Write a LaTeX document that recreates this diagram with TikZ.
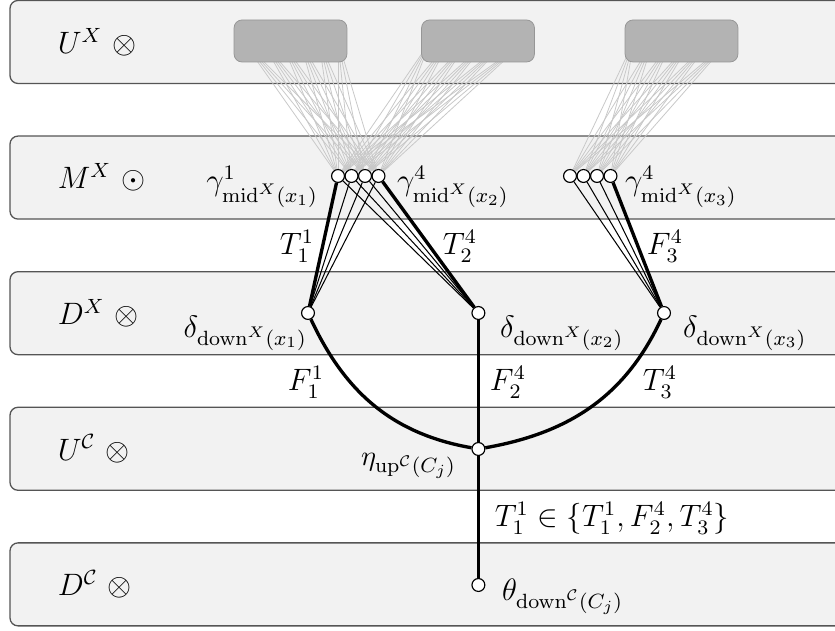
\documentclass[tikz,border=0pt,12pt]{standalone}
\usepackage{amsmath,amssymb}
\usetikzlibrary{calc,positioning}
\definecolor{layerfill}{RGB}{242,242,242}
\definecolor{layerline}{RGB}{85,85,85}
\definecolor{blockfill}{RGB}{179,179,179}
\definecolor{blockline}{RGB}{150,150,150}
\definecolor{wirecol}{RGB}{200,200,200}
\pgfdeclarelayer{back}
\pgfsetlayers{back,main}

\begin{document}
\begin{tikzpicture}[x=0.388pt,y=0.388pt,
  layer/.style={draw=layerline,fill=layerfill,line width=0.5pt,rounded corners=3.1pt},
  block/.style={draw=blockline,fill=blockfill,line width=0.3pt,rounded corners=3.1pt,
    minimum width=43.8pt,minimum height=16.3pt,inner sep=0pt},
  unit/.style={circle,draw,fill=white,line width=0.45pt,minimum size=5pt,inner sep=0pt},
  wire/.style={wirecol,line width=0.3pt},
  link/.style={line width=0.4pt},
  chosen/.style={line width=1.3pt},
  lab/.style={inner sep=1pt}]
  \useasboundingbox (0,0) rectangle (835,631);
  \clip (0,0) rectangle (835,631);

  \node[block] (bA) at (290.5,590) {};
  \node[block] (bB) at (478,590) {};
  \node[block] (bC) at (681.5,590) {};

  \foreach \k [count=\j] in {338,351.5,365,378.5} \node[unit] (g\j) at (\k,455) {};
  \foreach \k [count=\j] in {570,583.5,597,610.5} \node[unit] (h\j) at (\k,455) {};
  \node[unit] (d1) at (308,318) {};
  \node[unit] (d2) at (478.4,318) {};
  \node[unit] (d3) at (664,318) {};
  \node[unit] (up) at (478.4,182) {};
  \node[unit] (dn) at (478.4,46) {};

  \begin{pgfonlayer}{back}
    \fill[white] (0,0) rectangle (835,631);
    \foreach \i/\name/\op in {0/U^X/\otimes,1/M^X/\odot,2/D^X/\otimes,
        3/U^{\mathcal{C}}/\otimes,4/D^{\mathcal{C}}/\otimes} {
      \draw[layer] (10,{589-135.6*\i-41.5}) rectangle (870,{589-135.6*\i+41.5});
      \node[anchor=west] (t\i) at (47,{589-135.6*\i}) {$\name\ \op$};
    }
    \foreach \b in {bA,bB}
      \foreach \dx in {-47.5,-28.5,-9.5,9.5,28.5,47.5}
        \foreach \j in {1,...,4}
          \draw[wire] ($(\b)+(\dx,0)$) -- (g\j);
    \foreach \dx in {-47.5,-28.5,-9.5,9.5,28.5,47.5}
      \foreach \j in {1,...,4}
        \draw[wire] ($(bC)+(\dx,0)$) -- (h\j);
  \end{pgfonlayer}

  \foreach \j in {2,3,4} \draw[link] (g\j) -- (d1);
  \foreach \j in {1,2,3} \draw[link] (g\j) -- (d2);
  \foreach \j in {1,2,3} \draw[link] (h\j) -- (d3);
  \draw[chosen] (g1) -- (d1);
  \draw[chosen] (g4) -- (d2);
  \draw[chosen] (h4) -- (d3);
  \draw[chosen] (d1) to[out=-65,in=170] (up);
  \draw[chosen] (d3) to[out=-115,in=10] (up);
  \draw[chosen] (d2) -- (up);
  \draw[chosen] (up) -- (dn);

  \node[lab,anchor=east] (gl1) at (321,444) {$\gamma^1_{\mathrm{mid}^X(x_1)}$};
  \node[lab,anchor=west] (gl2) at (394,444) {$\gamma^4_{\mathrm{mid}^X(x_2)}$};
  \node[lab,anchor=west] (gl3) at (622,444) {$\gamma^4_{\mathrm{mid}^X(x_3)}$};
  \node[lab,anchor=east] (dl1) at (310,298) {$\delta_{\mathrm{down}^X(x_1)}$};
  \node[lab,anchor=west] (dl2) at (497,298) {$\delta_{\mathrm{down}^X(x_2)}$};
  \node[lab,anchor=west] (dl3) at (680,298) {$\delta_{\mathrm{down}^X(x_3)}$};
  \node[lab,anchor=east,font=\small] (ul) at (459,165) {$\eta_{\mathrm{up}^{\mathcal{C}}(C_j)}$};
  \node[lab,anchor=west] (nl) at (499,34) {$\theta_{\mathrm{down}^{\mathcal{C}}(C_j)}$};

  \node (e1) at (297,385) {$T_1^1$};
  \node (e2) at (460,385) {$T_2^4$};
  \node (e3) at (665,385) {$F_3^4$};
  \node (e4) at (306,249) {$F_1^1$};
  \node (e5) at (508,249) {$F_2^4$};
  \node (e6) at (660,249) {$T_3^4$};
  \node (e7) at (612,113) {$T_1^1\in\{T_1^1,F_2^4,T_3^4\}$};
\end{tikzpicture}
\end{document}
